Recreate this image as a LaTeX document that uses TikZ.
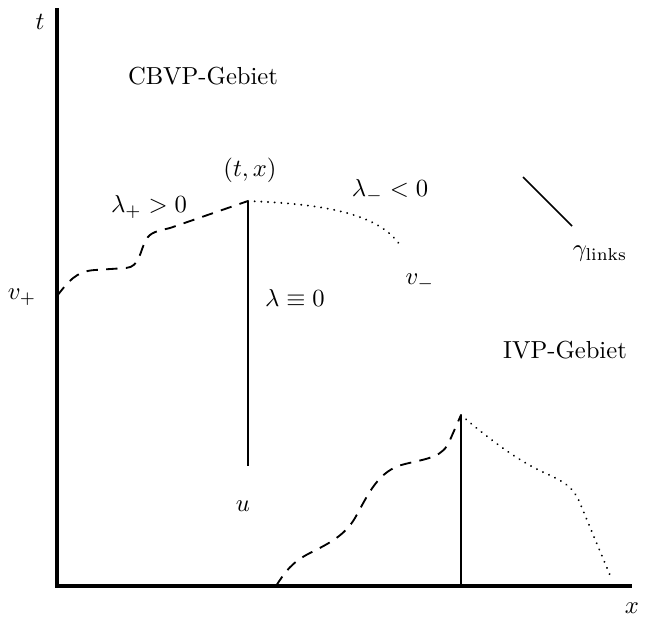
\documentclass[tikz,border=0pt]{standalone}
\begin{document}
\begin{tikzpicture}[x=0.406pt,y=-0.406pt,
  axis/.style={line width=1.6pt},
  jump/.style={line width=1.2pt},
  dashcurve/.style={line width=0.75pt,dash pattern=on 4.6pt off 3.4pt},
  dotcurve/.style={line width=0.85pt,dash pattern=on 0.01pt off 2.7pt,line cap=round},
  lbl/.style={inner sep=0pt}]
\useasboundingbox (0,0) rectangle (650,621);
% axes
\coordinate (O) at (57,586);
\coordinate (T) at (57,8);
\coordinate (X) at (632,586);
\draw[axis] (T) -- (O) -- (X);
\node[lbl] (tl) at (40,22) {$t$};
\node[lbl] (xl) at (632,608) {$x$};
% upper structure
\coordinate (P) at (248,201);
\coordinate (Pb) at (248,466);
\draw[jump] (P) -- (Pb);
\coordinate (vp) at (57,296);
\draw[dashcurve] (vp) .. controls (68,282) and (76,271) .. (95,270)
  -- (126,268) .. controls (140,267) and (140,250) .. (146,240)
  .. controls (150,232) and (158,231) .. (170,228) -- (P);
\coordinate (vm) at (402,248);
\draw[dotcurve] (P) .. controls (320,204) and (380,212) .. (vm);
% gamma line
\coordinate (g1) at (523,177);
\coordinate (g2) at (572,226);
\draw[line width=0.6pt] (g1) -- (g2);
% lower structure
\coordinate (Q) at (461,415);
\coordinate (Qb) at (461,586);
\draw[jump] (Q) -- (Qb);
\coordinate (s) at (276,586);
\draw[dashcurve] (s) .. controls (285,572) and (292,562) .. (310,553)
  .. controls (330,543) and (345,535) .. (355,518)
  .. controls (368,495) and (378,470) .. (405,464)
  .. controls (430,458) and (443,457) .. (450,440) -- (Q);
\coordinate (e) at (612,580);
\draw[dotcurve] (Q) .. controls (490,440) and (520,462) .. (545,473)
  .. controls (570,484) and (575,490) .. (582,508) -- (e);
% labels
\node[lbl] (cbvp) at (203,76) {CBVP-Gebiet};
\node[lbl] (tx) at (250,170) {$(t,x)$};
\node[lbl] (lp) at (149,207) {$\lambda_+>0$};
\node[lbl] (lm) at (390,191) {$\lambda_-<0$};
\node[lbl] (gl) at (600,254) {$\gamma_{\mathrm{links}}$};
\node[lbl] (vpl) at (22,297) {$v_+$};
\node[lbl] (vml) at (420,282) {$v_-$};
\node[lbl] (l0) at (295,298) {$\lambda\equiv 0$};
\node[lbl] (ivp) at (565,350) {IVP-Gebiet};
\node[lbl] (ul) at (243,506) {$u$};
\end{tikzpicture}
\end{document}
